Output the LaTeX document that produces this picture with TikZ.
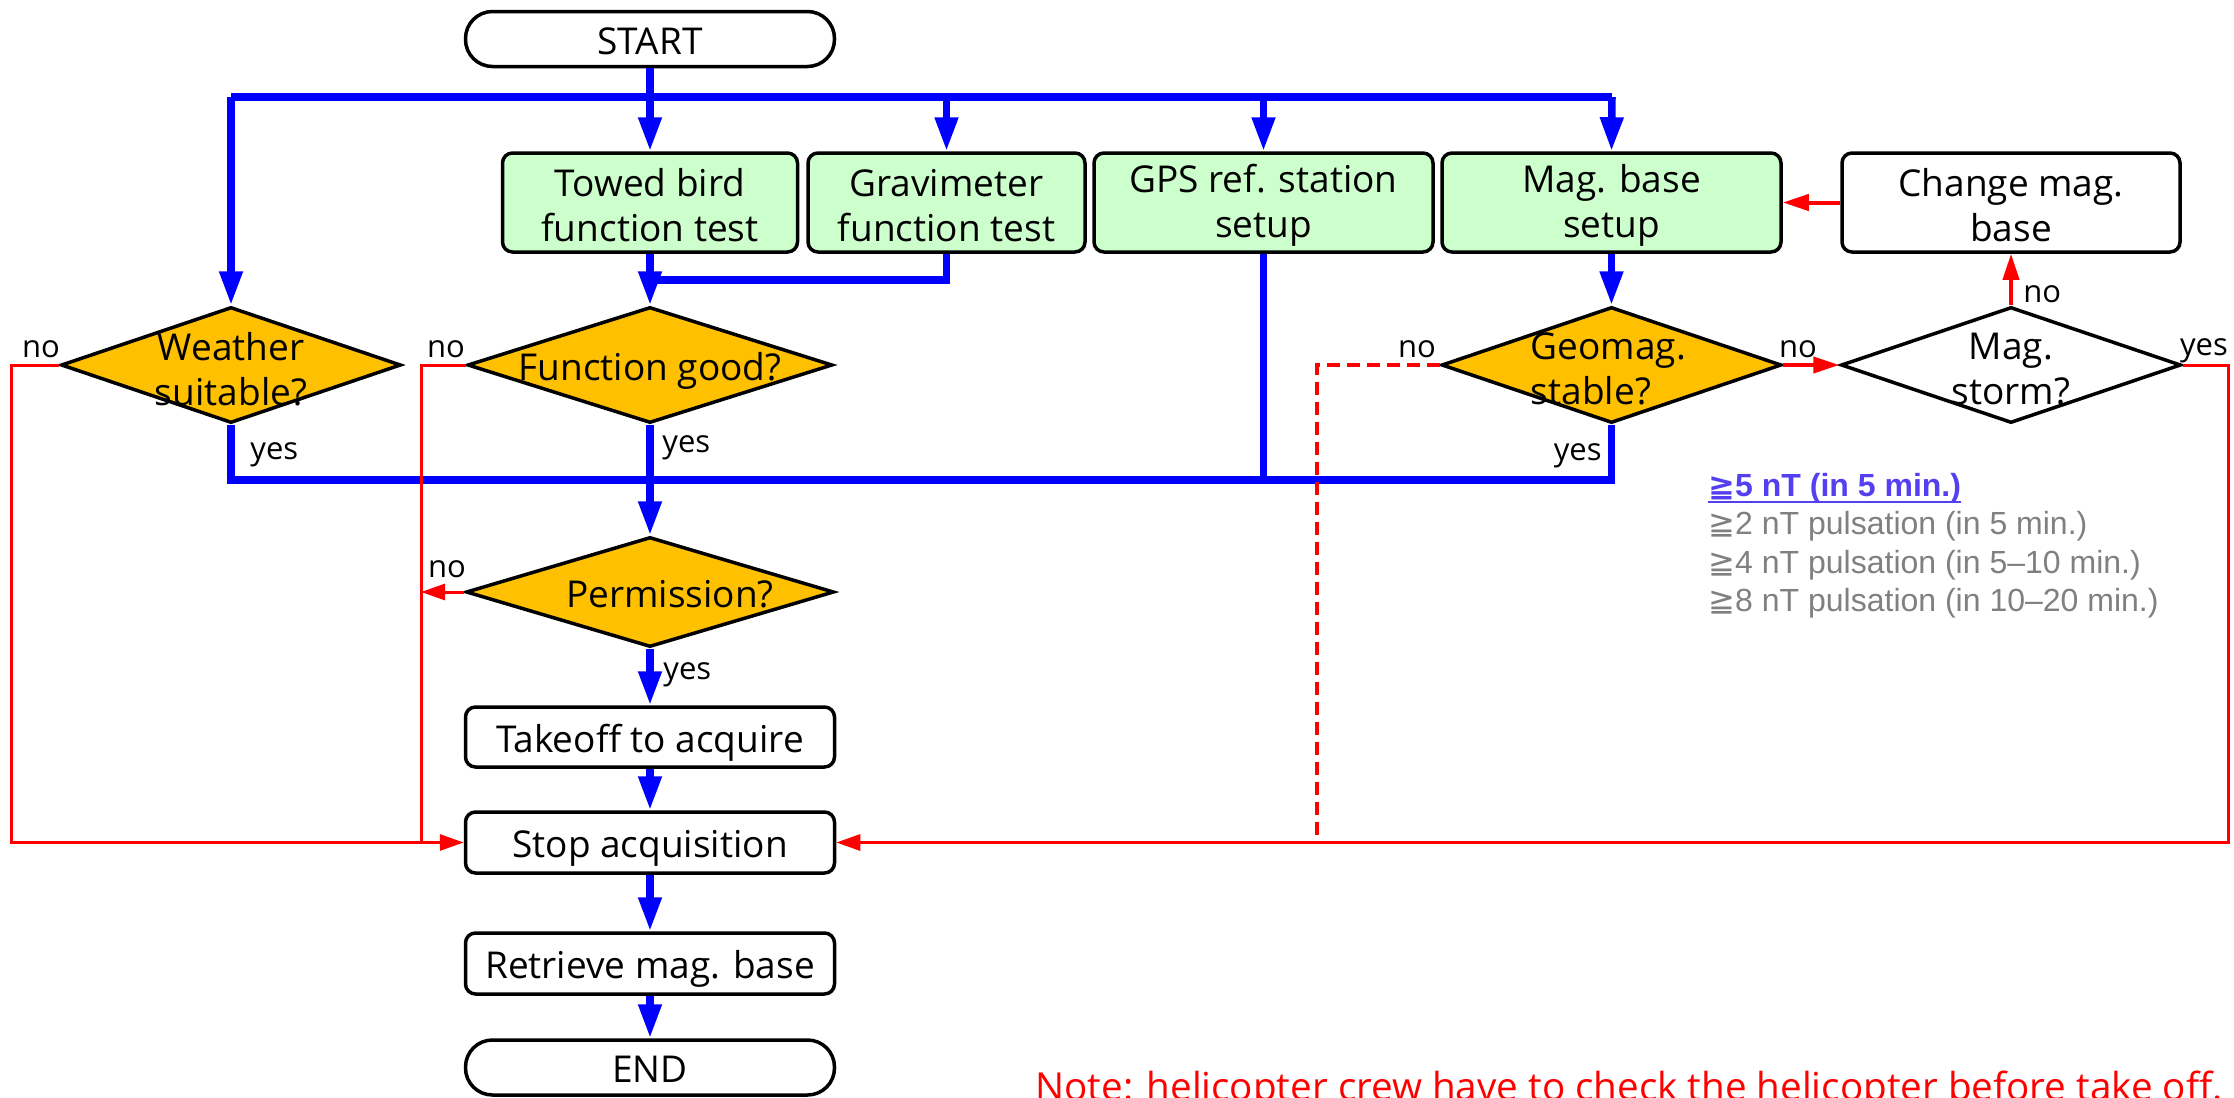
\documentclass[tikz,border=0pt]{standalone}
\usepackage{fontspec}
\setmainfont{Open Sans}
\newfontfamily\arialf{Liberation Sans}
\newfontfamily\symf{DejaVu Sans}
\usetikzlibrary{arrows.meta,shapes.geometric}
\definecolor{boxgreen}{RGB}{204,255,204}
\definecolor{dorange}{RGB}{255,192,0}
\definecolor{thrblue}{RGB}{84,64,240}
\definecolor{thrgray}{RGB}{128,128,128}
\newcommand{\tstrut}{\rule{0pt}{17pt}}
\tikzset{
  mainfont/.style={font=\fontsize{18.5pt}{22.5pt}\selectfont},
  labfont/.style={font=\fontsize{15.5pt}{18pt}\selectfont},
  box/.style={draw=black, line width=1.75pt, rounded corners=5pt, align=center, mainfont, inner sep=0pt},
  gbox/.style={box, fill=boxgreen, minimum height=49.5pt},
  oneline/.style={text height=15pt, text depth=0pt},
  wbox/.style={box, oneline, fill=white, minimum width=184.5pt, minimum height=30pt},
  term/.style={draw=black, line width=1.75pt, rounded corners=13.5pt, fill=white, mainfont, oneline, minimum width=184.5pt, minimum height=27.5pt, inner sep=0pt},
  dec/.style={diamond, draw=black, line width=1.75pt, inner sep=0pt, minimum width=170pt, minimum height=58pt},
  dlab/.style={mainfont, align=center, inner sep=0pt},
  yn/.style={labfont, inner sep=0pt},
  bl/.style={draw=blue, line width=3.75pt},
  bla/.style={bl, -{Triangle[length=17pt,width=11pt]}},
  rl/.style={draw=red, line width=1.5pt},
  rla/.style={rl, -{Triangle[length=12pt,width=8pt]}},
  rta/.style={draw=red, line width=2pt, -{Triangle[length=13pt,width=8pt]}},
  rdash/.style={draw=red, line width=2pt, dash pattern=on 6.5pt off 3.5pt},
  thr/.style={font=\arialf\fontsize{16pt}{19pt}\selectfont, inner sep=0pt, anchor=base west},
}
\begin{document}
\begin{tikzpicture}[x=0.5pt,y=-0.5pt]
\useasboundingbox (0,0) rectangle (2234,1098);
\fill[white] (0,0) rectangle (2234,1098);
\clip (0,0) rectangle (2234,1098);

% main column
\node[term] (start) at (650,39) {START};
\node[gbox, minimum width=147.5pt] (towed) at (650,202.5) {\tstrut Towed bird\\function test};
\node[gbox, minimum width=138.5pt] (grav) at (946.5,202.5) {\tstrut Gravimeter\\function test};
\node[gbox, minimum width=169.5pt] (gps) at (1263.5,202.5) {\tstrut GPS ref. station\\setup};
\node[gbox, minimum width=169.5pt] (magbase) at (1611.5,202.5) {\tstrut Mag. base\\setup};
\node[box, fill=white, minimum width=169pt, minimum height=49.5pt] (change) at (2011,202.5) {\tstrut Change mag.\\base};

\node[dec, fill=dorange, label={[dlab, yshift=-2pt]center:{Weather\\suitable?}}] (weather) at (231,365) {};
\node[dec, fill=dorange, minimum width=182.5pt, label={[dlab, oneline]center:{Function good?}}] (funcgood) at (650,365) {};
\node[dec, fill=dorange, label={[dlab, align=left, xshift=-1.5pt, yshift=-2pt]center:{Geomag.\\stable?}}] (geomag) at (1611.5,365) {};
\node[dec, fill=white, label={[dlab, yshift=-2pt]center:{Mag.\\storm?}}] (magstorm) at (2011,365) {};
\node[dec, fill=dorange, minimum width=184pt, minimum height=55pt, label={[dlab, xshift=10pt, yshift=-1pt]center:{Permission?}}] (permission) at (650,592) {};

\node[wbox] (takeoff) at (650,737) {Takeoff to acquire};
\node[wbox, minimum height=30.5pt] (stop) at (650,842.5) {Stop acquisition};
\node[wbox, minimum height=30.5pt] (retrieve) at (650,963.5) {Retrieve mag. base};
\node[term] (end) at (650,1067.5) {END};

% helper coordinates
\coordinate (busL) at (231,97);
\coordinate (busR) at (1612,97);
\coordinate (ybus) at (0,480);
\coordinate (gj) at (650,280);
\coordinate (rl1) at (11,0);
\coordinate (rm1) at (421,0);
\coordinate (rr1) at (2228,0);
\coordinate (rd1) at (1317,0);

% blue connectors
\draw[bl] (busL) -- (busR);
\draw[bla] (busL) -- (weather.north);
\draw[bla] (grav.north |- busL) -- (grav.north);
\draw[bla] (gps.north |- busL) -- (gps.north);
\draw[bla] (busR) -- (magbase.north);
\draw[bla] (start.south) -- (towed.north);
\draw[bl] (grav.south) |- (gj);
\draw[bla] (towed.south) -- (funcgood.north);
\draw[bl] (weather.south) -- (weather.south |- ybus) -| (geomag.south);
\draw[bl] (gps.south) -- (gps.south |- ybus);
\draw[bla] (magbase.south) -- (geomag.north);
\draw[bla] (funcgood.south) -- (permission.north);
\draw[bla] (permission.south) -- (takeoff.north);
\draw[bla] (takeoff.south) -- (stop.north);
\draw[bla] (stop.south) -- (retrieve.north);
\draw[bla] (retrieve.south) -- (end.north);

% red connectors
\draw[rla] (weather.west) -| (rl1 |- stop.west) -- (stop.west);
\draw[rl] (funcgood.west) -| (rm1 |- stop.west);
\draw[rla] (permission.west) -- (rm1 |- permission.west);
\draw[rla] (magstorm.east) -| (rr1 |- stop.east) -- (stop.east);
\draw[rdash] (geomag.west) -| (rd1 |- stop.east);
\draw[rta] (geomag.east) -- (magstorm.west);
\draw[rta] (magstorm.north) -- (change.south);
\draw[rta] (change.west) -- (magbase.east);

% yes / no labels
\node[yn, anchor=base] (n1) at (41,357) {no};
\node[yn, anchor=base west] (y1) at (250,459) {yes};
\node[yn, anchor=base] (n2) at (446,357) {no};
\node[yn, anchor=base west] (y2) at (662,452) {yes};
\node[yn, anchor=base] (n3) at (447,577) {no};
\node[yn, anchor=base west] (y3) at (663,679) {yes};
\node[yn, anchor=base] (n4) at (1417,357) {no};
\node[yn, anchor=base] (n5) at (1798,357) {no};
\node[yn, anchor=base west] (n6) at (2023,302) {no};
\node[yn, anchor=base] (y4) at (2204,355) {yes};
\node[yn, anchor=base east] (y5) at (1602,460) {yes};

% thresholds
\node[thr, text=thrblue] (thr1) at (1708,496) {\bfseries{\symf ≧}5 nT (in 5 min.)};
\draw[thrblue, line width=0.8pt] ([yshift=-3pt]thr1.base west) -- ([yshift=-3pt]thr1.base east);
\node[thr, text=thrgray] (thr2) at (1708,534.5) {{\symf ≧}2 nT pulsation (in 5 min.)};
\node[thr, text=thrgray] (thr3) at (1708,573) {{\symf ≧}4 nT pulsation (in 5–10 min.)};
\node[thr, text=thrgray] (thr4) at (1708,611.5) {{\symf ≧}8 nT pulsation (in 10–20 min.)};

% note
\node[font=\fontsize{19.3pt}{23pt}\selectfont, text=red, anchor=base west, inner sep=0pt] (note) at (1035,1100) {Note: helicopter crew have to check the helicopter before take off.};
\end{tikzpicture}
\end{document}
